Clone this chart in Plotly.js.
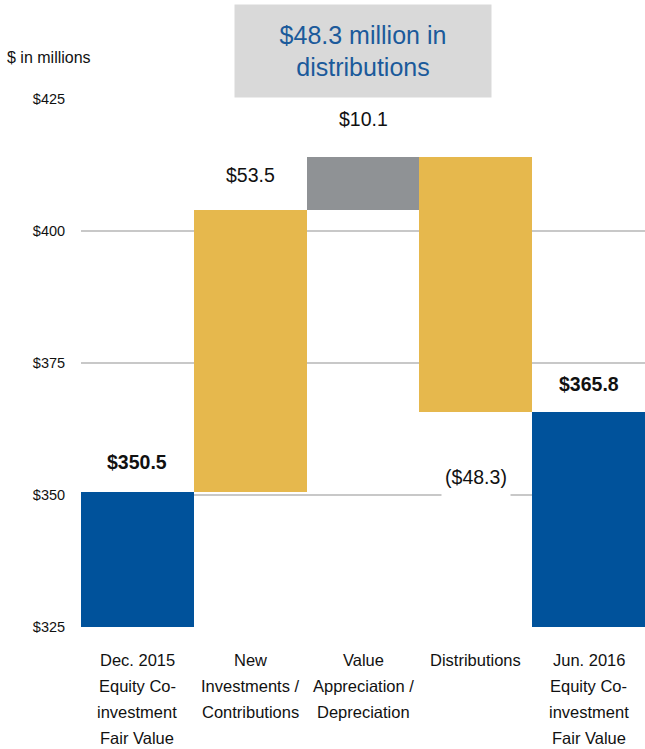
<!DOCTYPE html>
<html>
<head>
<meta charset="utf-8">
<script src="https://cdn.plot.ly/plotly-3.0.1.min.js"></script>
<style>html,body{margin:0;padding:0;background:#fff;}#chart{width:645px;height:749px;}</style>
</head>
<body>
<div id="chart"></div>
<script>
const categories = [
  "Dec. 2015<br>Equity Co-<br>investment<br>Fair Value",
  "New<br>Investments /<br>Contributions",
  "Value<br>Appreciation /<br>Depreciation",
  "Distributions",
  "Jun. 2016<br>Equity Co-<br>investment<br>Fair Value"
];
const values = [350.5, 53.5, 10.1, -48.3, 365.8];
const kinds = ["total", "delta", "delta", "delta", "total"];
const valueLabels = ["$350.5", "$53.5", "$10.1", "($48.3)", "$365.8"];
const yTickVals = [325, 350, 375, 400, 425];
const yTickText = ["$325", "$350", "$375", "$400", "$425"];
const headline = "$48.3 million in<br>distributions";

const COLORS = ["#00529B", "#E6B84D", "#8F9295", "#E6B84D", "#00529B"];
const FONT = "'Liberation Sans Narrow', 'Arial Narrow', 'Liberation Sans', Arial, sans-serif";

const xs = categories.map((c, i) => i);
const bases = [], heights = [], tops = [], bottoms = [];
let running = 0;
values.forEach((v, i) => {
  if (kinds[i] === "total") {
    bases.push(0); heights.push(v); running = v;
    tops.push(v); bottoms.push(0);
  } else {
    const start = running, end = running + v;
    bases.push(Math.min(start, end)); heights.push(Math.abs(v));
    tops.push(Math.max(start, end)); bottoms.push(Math.min(start, end));
    running = end;
  }
});

const trace = {
  type: "bar",
  x: xs,
  y: heights,
  base: bases,
  width: 1,
  marker: { color: COLORS, line: { width: 0 } },
  hoverinfo: "skip"
};

const labelShift = [30, 35, 38, -65, 28];
const annotations = values.map((v, i) => ({
  x: i, y: v < 0 ? bottoms[i] : tops[i], xref: "x", yref: "y",
  text: valueLabels[i], showarrow: false,
  yanchor: "middle", yshift: labelShift[i],
  font: { family: FONT, size: 19.5, color: "#111", weight: (kinds[i] === "total") ? "bold" : "normal" },
  bgcolor: v < 0 ? "#ffffff" : "rgba(0,0,0,0)",
  width: v < 0 ? 68 : undefined, height: v < 0 ? 42 : undefined,
  borderpad: 0
}));

// category labels, one annotation per line for the wide line spacing
categories.forEach((c, i) => {
  c.split("<br>").forEach((line, k) => {
    annotations.push({
      x: i, xref: "x", y: -0.0625, yref: "paper", yshift: -26 * k,
      text: line, showarrow: false, xanchor: "center", yanchor: "middle",
      font: { family: FONT, size: 16.5, color: "#111" }
    });
  });
});

annotations.push({
  x: 2, xref: "x", y: 1.0909, yref: "paper", text: headline, showarrow: false,
  xanchor: "center", yanchor: "middle", width: 256, height: 92,
  bgcolor: "#D9D9D9", borderpad: 0,
  font: { family: FONT, size: 25, color: "#1B5A9B" }
});
annotations.push({
  x: -0.1348, xref: "paper", y: 1.0795, yref: "paper", text: "$ in millions", showarrow: false,
  xanchor: "left", yanchor: "middle",
  font: { family: FONT, size: 16, color: "#111" }
});

const layout = {
  width: 645, height: 749,
  margin: { l: 81, r: 0, t: 99, b: 122 },
  paper_bgcolor: "#fff", plot_bgcolor: "#fff",
  showlegend: false,
  bargap: 0,
  xaxis: {
    range: [-0.5, 4.5], tickvals: xs, showticklabels: false,
    showgrid: false, zeroline: false, showline: false, ticks: ""
  },
  yaxis: {
    range: [325, 425], tickvals: yTickVals, ticktext: yTickText,
    showgrid: true, gridcolor: "#C8C8C8", gridwidth: 1.5,
    zeroline: false, showline: false,
    ticks: "outside", ticklen: 12, tickcolor: "rgba(0,0,0,0)",
    tickfont: { family: FONT, size: 14.5, color: "#111" }
  },
  annotations: annotations
};

Plotly.newPlot("chart", [trace], layout, { displayModeBar: false, staticPlot: true });
</script>
</body>
</html>
